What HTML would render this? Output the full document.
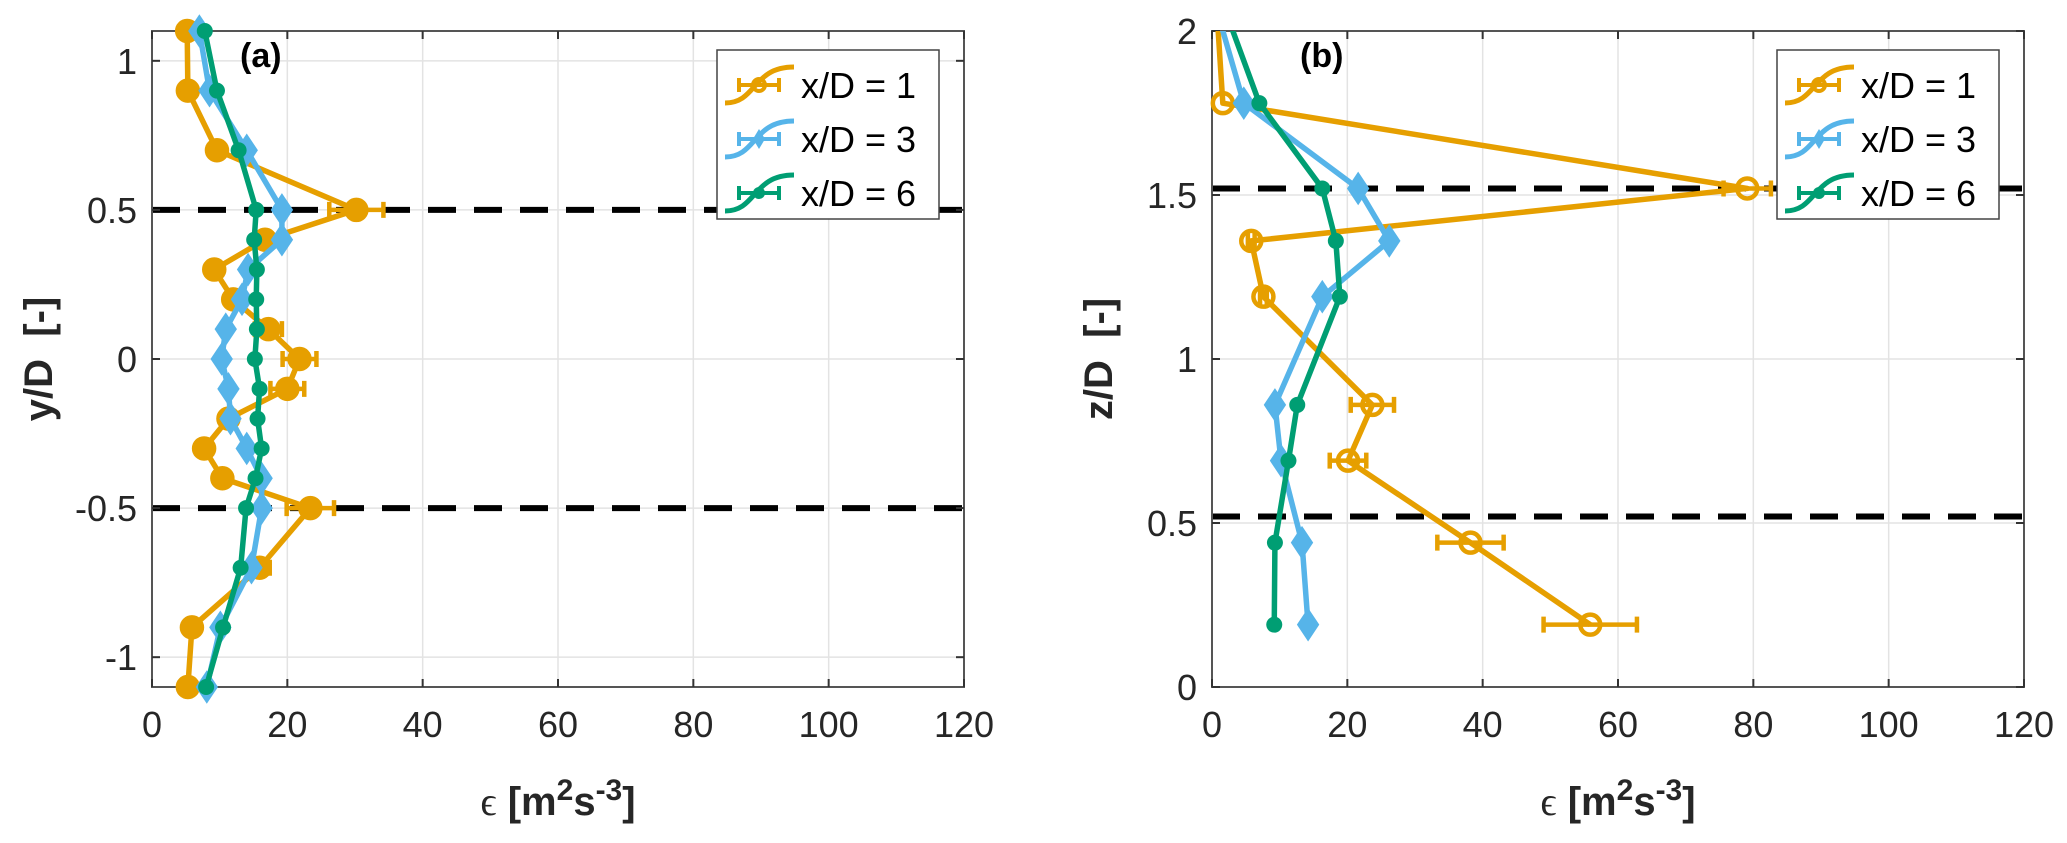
<!DOCTYPE html>
<html><head><meta charset="utf-8"><style>
html,body{margin:0;padding:0;background:#fff;}
svg{display:block;font-family:"Liberation Sans",Arial,sans-serif;}
</style></head><body>
<svg id="fig" width="2067" height="843" viewBox="0 0 2067 843"></svg>
<script>
// Panel (a) data
const yA = [1.1,0.9,0.7,0.5,0.4,0.3,0.2,0.1,0,-0.1,-0.2,-0.3,-0.4,-0.5,-0.7,-0.9,-1.1];
const aX1 = [5.2,5.3,9.6,30.2,16.7,9.2,12.0,17.2,21.8,20.0,11.3,7.7,10.4,23.4,15.9,5.9,5.3];
const aE1 = [0.5,0.5,1,4,1,1,1,2,2.5,2.5,1,0.8,1,3.5,1.5,0.5,0.5];
const aX3 = [7.0,8.5,14.0,19.2,19.2,14.2,13.3,10.9,10.3,11.3,11.6,14.0,16.2,16.2,14.7,10.1,8.1];
const aX6 = [7.8,9.6,12.8,15.4,15.1,15.5,15.4,15.5,15.2,15.9,15.6,16.2,15.3,13.9,13.1,10.5,8.0];
// Panel (b) data
const zB = [2.1,1.78,1.52,1.36,1.19,0.86,0.69,0.44,0.19];
const bX1 = [0.6,1.6,79.1,5.8,7.6,23.7,20.1,38.2,55.9];
const bE1 = [0,0.3,3.5,0.5,0.5,3.2,2.7,4.9,6.9];
const bX3 = [0.2,4.7,21.6,26.2,16.3,9.3,10.2,13.3,14.2];
const bX6 = [1.3,7.0,16.3,18.3,18.9,12.6,11.3,9.3,9.2];
const xTicks = [0,20,40,60,80,100,120];
const yTicksA = [-1,-0.5,0,0.5,1];
const yTicksB = [0,0.5,1,1.5,2];
const dashA = [0.5,-0.5];
const dashB = [1.52,0.52];
const legendLabels = ["x/D = 1","x/D = 3","x/D = 6"];

const NS="http://www.w3.org/2000/svg";
const svg=document.getElementById('fig');
const C1="#E69F00",C3="#56B4E9",C6="#009E73";
function mk(tag,attrs,parent){const e=document.createElementNS(NS,tag);for(const k in attrs)e.setAttribute(k,attrs[k]);(parent||svg).appendChild(e);return e;}

function panel(opt){
  const g=mk('g',{});
  
  
  const L=opt.left,R=opt.left+812,T=31,B=687;
  const sx=v=>L+(v-0)/120*(R-L);
  const sy=v=>B-(v-opt.ymin)/(opt.ymax-opt.ymin)*(B-T);
  xTicks.forEach(t=>{const l=mk('line',{x1:sx(t),x2:sx(t),y1:T,y2:B,stroke:'#e3e3e3','stroke-width':1.5},g);
    });
  opt.yticks.forEach(t=>{const l=mk('line',{x1:L,x2:R,y1:sy(t),y2:sy(t),stroke:'#e3e3e3','stroke-width':1.5},g);
    });
  opt.dash.forEach(d=>{const l=mk('line',{x1:L,x2:R,y1:sy(d),y2:sy(d),stroke:'#000','stroke-width':6,'stroke-dasharray':'28,18'},g);
    });
  const box=mk('rect',{x:L,y:T,width:R-L,height:B-T,fill:'none',stroke:'#555','stroke-width':2},g);
  
  xTicks.forEach(t=>{mk('line',{x1:sx(t),x2:sx(t),y1:B,y2:B-8,stroke:'#333','stroke-width':2},g);mk('line',{x1:sx(t),x2:sx(t),y1:T,y2:T+8,stroke:'#333','stroke-width':2},g);
    const tx=mk('text',{x:sx(t),y:737,'font-size':36,'text-anchor':'middle',fill:'#262626'},g);tx.textContent=t;
    });
  opt.yticks.forEach(t=>{mk('line',{x1:L,x2:L+8,y1:sy(t),y2:sy(t),stroke:'#333','stroke-width':2},g);mk('line',{x1:R,x2:R-8,y1:sy(t),y2:sy(t),stroke:'#333','stroke-width':2},g);
    const tx=mk('text',{x:L-15,y:sy(t)+13,'font-size':36,'text-anchor':'end',fill:'#262626'},g);tx.textContent=t;
    });
  const xt=mk('text',{x:(L+R)/2,y:815,'font-size':40,'font-weight':'bold','text-anchor':'middle',fill:'#262626'},g);
  xt.innerHTML='<tspan font-weight="normal" font-family="Liberation Serif, serif">ϵ</tspan> [m<tspan dy="-15" font-size="30">2</tspan><tspan dy="15">s</tspan><tspan dy="-15" font-size="30">-3</tspan><tspan dy="15">]</tspan>';
  
  const yt=mk('text',{x:0,y:0,'font-size':40,'font-weight':'bold','text-anchor':'middle',fill:'#262626',transform:`translate(${L-100},${(T+B)/2}) rotate(-90)`},g);
  yt.textContent=opt.ylabel;yt.style.whiteSpace='pre';
  
  const pl=mk('text',{x:L+88,y:T+36,'font-size':34,'font-weight':'bold',fill:'#000'},g);pl.textContent=opt.tag;
  
  const cid='clip'+opt.name;
  const cp=mk('clipPath',{id:cid},g);mk('rect',{x:L-20,y:T,width:R-L+40,height:B-T+20},cp);
  const series=[{x:opt.s1,c:C1,m:'o',e:opt.e1,n:'series-xD-1'},{x:opt.s3,c:C3,m:'d',n:'series-xD-3'},{x:opt.s6,c:C6,m:'p',n:'series-xD-6'}];
  series.forEach(s=>{
    const sg=mk('g',{},g);
    const pts=s.x.map((v,i)=>sx(v)+','+sy(opt.ys[i])).join(' ');
    const pl2=mk('polyline',{points:pts,fill:'none',stroke:s.c,'stroke-width':5.5,'stroke-linejoin':'round','clip-path':opt.clip?`url(#${cid})`:''},sg);
    
    s.x.forEach((v,i)=>{
      const yv=opt.ys[i]; if(yv>opt.ymax+0.001)return;
      const cx=sx(v),cy=sy(yv);
      if(s.e&&s.e[i]>0.3){const e=s.e[i];
        const eb=mk('path',{d:`M${sx(v-e)},${cy}H${sx(v+e)}M${sx(v-e)},${cy-8}V${cy+8}M${sx(v+e)},${cy-8}V${cy+8}`,stroke:s.c,'stroke-width':4.5,fill:'none'},sg);
        }
      let m;
      if(s.m==='o')m=mk('circle',{cx,cy,r:10,fill:opt.fillO?s.c:'none',stroke:s.c,'stroke-width':4.5},sg);
      else if(s.m==='d')m=mk('path',{d:`M${cx},${cy-15}L${cx+10},${cy}L${cx},${cy+15}L${cx-10},${cy}Z`,fill:s.c,stroke:s.c,'stroke-width':2},sg);
      else m=mk('circle',{cx,cy,r:8,fill:s.c},sg);
      
    });
  });
  const lx=R-247,ly=50;
  const lg=mk('g',{},g);
  mk('rect',{x:lx,y:ly,width:222,height:169,fill:'#fff',stroke:'#444','stroke-width':1.5},lg);
  [C1,C3,C6].forEach((c,i)=>{
    const cy=ly+35+i*54;
    const eg=mk('g',{},lg);
    mk('path',{d:`M${lx+8},${cy+18}C${lx+40},${cy+18} ${lx+35},${cy-18} ${lx+77},${cy-18}`,stroke:c,'stroke-width':5,fill:'none'},eg);
    mk('path',{d:`M${lx+22},${cy}H${lx+62}M${lx+22},${cy-7}V${cy+7}M${lx+62},${cy-7}V${cy+7}`,stroke:c,'stroke-width':4},eg);
    if(i===0)mk('circle',{cx:lx+42,cy,r:6,fill:'none',stroke:c,'stroke-width':4},eg);
    else if(i===1)mk('path',{d:`M${lx+42},${cy-10}L${lx+48},${cy}L${lx+42},${cy+10}L${lx+36},${cy}Z`,fill:c},eg);
    else mk('circle',{cx:lx+42,cy,r:6,fill:c},eg);
    const t=mk('text',{x:lx+84,y:cy+13,'font-size':36,fill:'#000'},eg);t.textContent=legendLabels[i];
  });
}
panel({name:'panel-a',tag:'(a)',left:152,ymin:-1.1,ymax:1.1,yticks:yTicksA,dash:dashA,ys:yA,s1:aX1,e1:aE1,s3:aX3,s6:aX6,ylabel:'y/D  [-]',fillO:true,clip:false});
panel({name:'panel-b',tag:'(b)',left:1212,ymin:0,ymax:2,yticks:yTicksB,dash:dashB,ys:zB,s1:bX1,e1:bE1,s3:bX3,s6:bX6,ylabel:'z/D  [-]',fillO:false,clip:true});
</script>
</body></html>
